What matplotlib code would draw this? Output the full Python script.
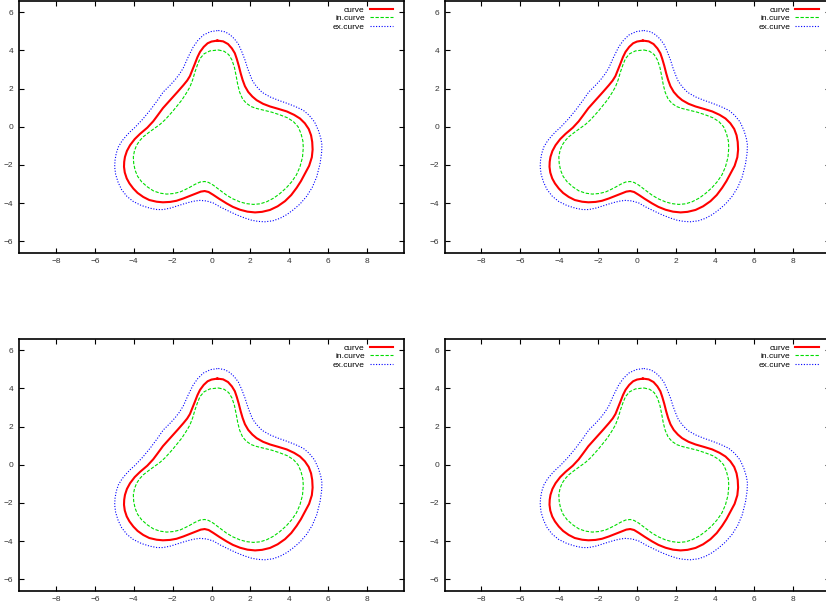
import matplotlib
matplotlib.use('Agg')
import matplotlib.pyplot as plt

plt.rcParams['font.family'] = ['Liberation Sans', 'DejaVu Sans']

# closed curve and its inner / outer offset curves
curve_x = [0.30, 0.60, 0.85, 1.05, 1.20, 1.30, 1.40, 1.50, 1.60, 1.72, 1.89, 2.10, 2.32, 2.65, 3.01,
           3.45, 3.87, 4.25, 4.55, 4.80, 5.00, 5.12, 5.18, 5.20, 5.16, 5.02, 4.81, 4.60, 4.38, 4.10,
           3.78, 3.40, 3.01, 2.60, 2.24, 1.85, 1.47, 1.10, 0.78, 0.40, 0.09, -0.15, -0.35, -0.55,
           -0.80, -1.10, -1.45, -1.80, -2.13, -2.50, -2.82, -3.20, -3.51, -3.80, -4.02, -4.22, -4.36,
           -4.46, -4.50, -4.49, -4.45, -4.35, -4.19, -3.95, -3.68, -3.30, -3.00, -2.78, -2.50, -2.13,
           -1.75, -1.45, -1.25, -1.11, -0.98, -0.85, -0.72, -0.59, -0.40, -0.20, 0.00, 0.30]
curve_y = [4.51, 4.47, 4.33, 4.10, 3.85, 3.55, 3.20, 2.80, 2.45, 2.12, 1.82, 1.58, 1.39, 1.20, 1.06,
           0.93, 0.80, 0.62, 0.43, 0.18, -0.12, -0.45, -0.80, -1.20, -1.60, -2.05, -2.45, -2.85, -3.20,
           -3.58, -3.90, -4.17, -4.36, -4.46, -4.49, -4.45, -4.35, -4.20, -4.02, -3.78, -3.57, -3.42,
           -3.37, -3.40, -3.50, -3.62, -3.76, -3.88, -3.94, -3.96, -3.93, -3.84, -3.68, -3.47, -3.24,
           -2.97, -2.71, -2.40, -2.10, -1.84, -1.58, -1.27, -0.97, -0.65, -0.38, -0.05, 0.28, 0.58,
           0.97, 1.39, 1.82, 2.17, 2.42, 2.65, 2.98, 3.31, 3.65, 3.92, 4.18, 4.37, 4.46, 4.51]

in_x = [0.35, 0.65, 0.88, 1.05, 1.18, 1.27, 1.35, 1.45, 1.60, 1.80, 2.05, 2.30, 2.66, 3.10, 3.52,
        3.90, 4.21, 4.45, 4.60, 4.70, 4.72, 4.68, 4.55, 4.37, 4.12, 3.85, 3.52, 3.20, 2.84, 2.50,
        2.15, 1.80, 1.47, 1.10, 0.78, 0.40, 0.09, -0.15, -0.35, -0.59, -0.85, -1.11, -1.40, -1.62,
        -1.95, -2.30, -2.65, -2.99, -3.30, -3.59, -3.80, -3.93, -4.00, -4.02, -3.96, -3.85, -3.70,
        -3.51, -3.22, -2.95, -2.65, -2.39, -2.00, -1.53, -1.30, -1.11, -0.97, -0.85, -0.72, -0.59,
        -0.38, -0.08, 0.35]
in_y = [4.02, 3.95, 3.78, 3.50, 3.10, 2.65, 2.20, 1.80, 1.45, 1.22, 1.05, 0.96, 0.87, 0.76, 0.62,
        0.47, 0.27, 0.00, -0.35, -0.75, -1.10, -1.60, -2.10, -2.52, -2.89, -3.20, -3.50, -3.74, -3.93,
        -4.04, -4.07, -4.03, -3.94, -3.78, -3.59, -3.30, -3.06, -2.92, -2.87, -2.90, -3.02, -3.17,
        -3.32, -3.42, -3.50, -3.53, -3.48, -3.36, -3.15, -2.89, -2.60, -2.28, -1.93, -1.58, -1.25,
        -0.97, -0.74, -0.53, -0.30, -0.10, 0.12, 0.36, 0.80, 1.39, 1.75, 2.08, 2.45, 2.87, 3.25,
        3.57, 3.82, 3.97, 4.02]

ex_x = [0.35, 0.70, 0.95, 1.18, 1.38, 1.55, 1.72, 1.85, 1.98, 2.12, 2.32, 2.60, 3.01, 3.45, 3.87,
        4.30, 4.72, 5.02, 5.30, 5.50, 5.62, 5.68, 5.66, 5.58, 5.41, 5.18, 4.89, 4.55, 4.21, 3.88,
        3.52, 3.15, 2.75, 2.40, 2.07, 1.70, 1.30, 0.90, 0.44, 0.10, -0.25, -0.59, -0.85, -1.11,
        -1.45, -1.79, -2.10, -2.48, -2.80, -3.16, -3.60, -4.02, -4.35, -4.62, -4.80, -4.93, -4.98,
        -4.96, -4.90, -4.79, -4.60, -4.36, -4.15, -3.95, -3.55, -3.16, -2.80, -2.48, -2.15, -1.88,
        -1.65, -1.45, -1.20, -0.94, -0.70, -0.42, -0.05, 0.35]
ex_y = [5.04, 4.97, 4.82, 4.60, 4.33, 3.95, 3.50, 3.08, 2.72, 2.38, 2.10, 1.80, 1.56, 1.38, 1.23,
        1.06, 0.86, 0.60, 0.25, -0.20, -0.60, -0.95, -1.40, -1.95, -2.63, -3.18, -3.65, -4.05, -4.35,
        -4.60, -4.80, -4.93, -4.98, -4.96, -4.90, -4.78, -4.62, -4.43, -4.20, -4.00, -3.89, -3.86,
        -3.89, -3.95, -4.05, -4.16, -4.26, -4.34, -4.34, -4.27, -4.13, -3.92, -3.65, -3.30, -2.92,
        -2.50, -2.10, -1.75, -1.40, -1.06, -0.74, -0.45, -0.23, -0.05, 0.38, 0.86, 1.35, 1.82, 2.15,
        2.45, 2.75, 3.08, 3.65, 4.18, 4.52, 4.80, 4.98, 5.04]

xticks = [-8, -6, -4, -2, 0, 2, 4, 6, 8]
yticks = [-6, -4, -2, 0, 2, 4, 6]

W, H = 826, 608
fig = plt.figure(figsize=(W / 100, H / 100), dpi=100)

# axes frames in pixels: left, top
frames = [(19, 0.7), (444.5, 0.7), (19, 338.7), (444.5, 338.7)]
aw, ah = 385, 252

for (left, top) in frames:
    ax = fig.add_axes([left / W, (H - top - ah) / H, aw / W, ah / H])
    ax.plot(curve_x, curve_y, color='#ff0000', lw=1.5, label='curve')
    ax.plot(in_x, in_y, color='#00dd00', lw=0.8, ls=(0, (3, 1.5)), label='in.curve')
    ax.plot(ex_x, ex_y, color='#0000ff', lw=0.8, ls=(0, (1, 1.5)), label='ex.curve')
    ax.set_xlim(-9.9, 9.9)
    ax.set_ylim(-6.6, 6.6)
    ax.set_xticks(xticks)
    ax.set_yticks(yticks)
    ax.tick_params(direction='in', top=True, right=True, length=3.5, width=0.8,
                   labelsize=6, pad=4, colors='black', labelcolor='#333333')
    for s in ax.spines.values():
        s.set_linewidth(1.2)
    ax.legend(loc='upper right', bbox_to_anchor=(1 - 11 / aw, 1 - 5 / ah), frameon=False,
              markerfirst=False, fontsize=6, handlelength=2.8, handletextpad=0.6,
              labelspacing=0.1, borderaxespad=0, borderpad=0)

fig.savefig('out.png', dpi=100)
